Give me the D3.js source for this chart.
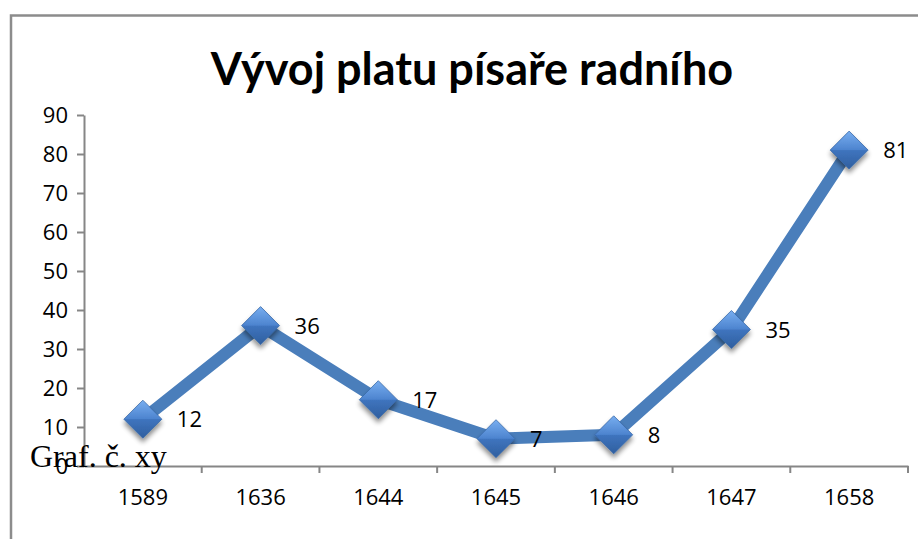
<!DOCTYPE html>
<html>
<head>
<meta charset="utf-8">
<script src="https://cdn.jsdelivr.net/npm/d3@7"></script>
<style>
  body { margin: 0; background: #fff; }
  svg { display: block; }
  .axis text { font-family: 'Open Sans', Lato, sans-serif; font-size: 22px; fill: #000; }
  .axis path, .axis line { stroke: #868686; stroke-width: 2; }
</style>
</head>
<body>
<div class="graph"><svg id="chart"></svg></div>
<script>
const years = ['1589', '1636', '1644', '1645', '1646', '1647', '1658']
const salary = [12, 36, 17, 7, 8, 35, 81]
const yTicks = [0, 10, 20, 30, 40, 50, 60, 70, 80, 90]

const width = 918
const height = 539
const plot = { left: 84, right: 908, top: 115, bottom: 466 }

const svg = d3.select('#chart')
  .attr('width', width)
  .attr('height', height)

const defs = svg.append('defs')
const grad = defs.append('linearGradient')
  .attr('id', 'marker-grad')
  .attr('x1', 0).attr('y1', 0).attr('x2', 0).attr('y2', 1)
grad.append('stop').attr('offset', '0%').attr('stop-color', '#78aef0')
grad.append('stop').attr('offset', '49%').attr('stop-color', '#4d84cf')
grad.append('stop').attr('offset', '51%').attr('stop-color', '#3f74be')
grad.append('stop').attr('offset', '100%').attr('stop-color', '#2f5f9f')

const shadow = defs.append('filter')
  .attr('id', 'shadow')
  .attr('x', '-50%').attr('y', '-50%').attr('width', '200%').attr('height', '200%')
shadow.append('feGaussianBlur').attr('in', 'SourceAlpha').attr('stdDeviation', 2.5)
shadow.append('feOffset').attr('dx', 0).attr('dy', 4).attr('result', 'off')
shadow.append('feComponentTransfer').append('feFuncA').attr('type', 'linear').attr('slope', 0.45)
const merge = shadow.append('feMerge')
merge.append('feMergeNode')
merge.append('feMergeNode').attr('in', 'SourceGraphic')

// frame (only top and left edges visible in the crop)
svg.append('path')
  .attr('d', 'M11,539 V15.5 H918')
  .attr('fill', 'none')
  .attr('stroke', '#8c8c8c')
  .attr('stroke-width', 2.5)

svg.append('text')
  .attr('x', 472)
  .attr('y', 85)
  .attr('text-anchor', 'middle')
  .attr('font-family', 'Lato, sans-serif')
  .attr('font-weight', 'bold')
  .attr('font-size', '45px')
  .text('Vývoj platu písaře radního')

const x = d3.scaleBand().domain(years).range([plot.left, plot.right])
const y = d3.scaleLinear().domain([0, 90]).range([plot.bottom, plot.top])

svg.append('g')
  .attr('class', 'axis y-axis')
  .attr('transform', 'translate(' + plot.left + ',0)')
  .call(d3.axisLeft(y).tickValues(yTicks).tickSize(7).tickSizeOuter(0).tickPadding(9))

const xAxis = svg.append('g')
  .attr('class', 'axis x-axis')
  .attr('transform', 'translate(0,' + plot.bottom + ')')
  .call(d3.axisBottom(x).tickSize(0).tickSizeOuter(0).tickPadding(23))

// category separators
xAxis.selectAll('.sep')
  .data(years.map((d, i) => i + 1))
  .enter().append('line')
  .attr('class', 'sep')
  .attr('x1', i => plot.left + i * x.step())
  .attr('x2', i => plot.left + i * x.step())
  .attr('y1', 0)
  .attr('y2', 7)

const pts = years.map((d, i) => ({ year: d, value: salary[i] }))
const cx = d => x(d.year) + x.bandwidth() / 2

svg.append('path')
  .datum(pts)
  .attr('fill', 'none')
  .attr('stroke', '#4a7ebb')
  .attr('stroke-width', 12)
  .attr('stroke-linejoin', 'round')
  .attr('d', d3.line().x(cx).y(d => y(d.value)))

const r = 19
svg.selectAll('.marker')
  .data(pts)
  .enter().append('path')
  .attr('class', 'marker')
  .attr('filter', 'url(#shadow)')
  .attr('fill', 'url(#marker-grad)')
  .attr('stroke', '#3a6aa8')
  .attr('stroke-width', 0.8)
  .attr('d', d => {
    const px = cx(d), py = y(d.value)
    return 'M' + px + ',' + (py - r) + 'L' + (px + r) + ',' + py +
      'L' + px + ',' + (py + r) + 'L' + (px - r) + ',' + py + 'Z'
  })

svg.selectAll('.label')
  .data(pts)
  .enter().append('text')
  .attr('class', 'label')
  .attr('x', d => cx(d) + 34)
  .attr('y', d => y(d.value) + 8)
  .attr('font-family', "'Open Sans', Lato, sans-serif")
  .attr('font-size', '22px')
  .text(d => d.value)

svg.append('text')
  .attr('x', 30)
  .attr('y', 467)
  .attr('font-family', "'Liberation Serif', 'DejaVu Serif', serif")
  .attr('font-size', '32px')
  .text('Graf. č. xy')
</script>
</body>
</html>
